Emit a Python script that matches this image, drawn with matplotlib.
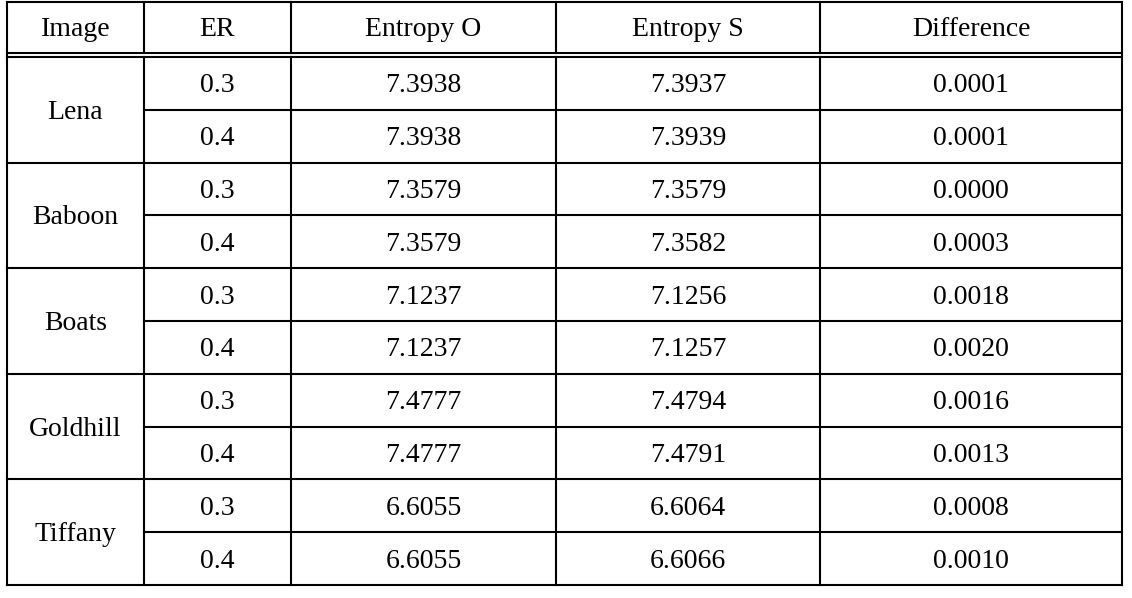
import matplotlib.pyplot as plt

plt.rcParams['font.family'] = ['Liberation Serif', 'DejaVu Serif']

# table data
headers = ["Image", "ER", "Entropy O", "Entropy S", "Difference"]
images = ["Lena", "Baboon", "Boats", "Goldhill", "Tiffany"]
er = ["0.3", "0.4"]
entropy_o = ["7.3938", "7.3938", "7.3579", "7.3579", "7.1237", "7.1237",
             "7.4777", "7.4777", "6.6055", "6.6055"]
entropy_s = ["7.3937", "7.3939", "7.3579", "7.3582", "7.1256", "7.1257",
             "7.4794", "7.4791", "6.6064", "6.6066"]
difference = ["0.0001", "0.0001", "0.0000", "0.0003", "0.0018", "0.0020",
              "0.0016", "0.0013", "0.0008", "0.0010"]

# layout (pixels)
col_x = [7, 144, 291, 556, 820, 1122]
top, head_bot, body_top, bottom = 2, 53, 57, 585
row_h = (bottom - body_top) / 10

fig = plt.figure(figsize=(11.32, 5.98), dpi=100)
ax = fig.add_axes([0, 0, 1, 1])
ax.set_xlim(0, 1132)
ax.set_ylim(598, 0)
ax.axis('off')

lw = 1.5
kw = dict(color='black', lw=lw, solid_capstyle='projecting')
# outer border and header lines
for y in [top, head_bot, body_top, bottom]:
    ax.plot([col_x[0], col_x[-1]], [y, y], **kw)
for x in [col_x[0], col_x[-1]]:
    ax.plot([x, x], [top, bottom], **kw)
# inner vertical lines
for x in col_x[1:-1]:
    ax.plot([x, x], [top, head_bot], **kw)
    ax.plot([x, x], [body_top, bottom], **kw)
# horizontal row lines
for i in range(1, 10):
    y = body_top + i * row_h
    x0 = col_x[0] if i % 2 == 0 else col_x[1]
    ax.plot([x0, col_x[-1]], [y, y], **kw)

fs = 20
dy = 2.5
for j, h in enumerate(headers):
    ax.text((col_x[j] + col_x[j + 1]) / 2, (top + head_bot) / 2 + dy - 0.5, h,
            ha='center', va='center', fontsize=fs)

for g, name in enumerate(images):
    yc = body_top + (2 * g + 1) * row_h
    ax.text((col_x[0] + col_x[1]) / 2, yc + dy, name, ha='center', va='center', fontsize=fs)

for i in range(10):
    yc = body_top + (i + 0.5) * row_h
    vals = [er[i % 2], entropy_o[i], entropy_s[i], difference[i]]
    for j, v in enumerate(vals, start=1):
        ax.text((col_x[j] + col_x[j + 1]) / 2, yc + dy, v, ha='center', va='center', fontsize=fs)

fig.savefig('out.png', dpi=100, facecolor='white')
